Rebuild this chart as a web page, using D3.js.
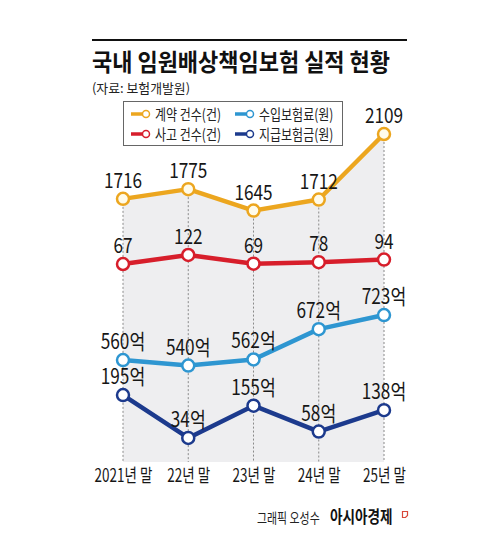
<!DOCTYPE html>
<html>
<head>
<meta charset="utf-8">
<script src="https://cdn.jsdelivr.net/npm/d3@7"></script>
<style>
  body { margin: 0; background: #fff; }
  svg { display: block; font-family: "Noto Sans CJK KR", "Noto Sans", sans-serif; }
</style>
</head>
<body>
<svg width="500" height="543"></svg>
<script>
// data
const years = ["2021년 말", "22년 말", "23년 말", "24년 말", "25년 말"];
const contracts = [1716, 1775, 1645, 1712, 2109]; // 계약 건수(건)
const accidents = [67, 122, 69, 78, 94];          // 사고 건수(건)
const premiums = [560, 540, 562, 672, 723];       // 수입보험료(원), 억
const payouts = [195, 34, 155, 58, 138];          // 지급보험금(원), 억

let svg = d3.select("svg");
let bottom = 462;
let squeeze = 0.82;

x = d3.scalePoint()
    .domain(years)
    .range([123, 384]);

// every series gets its own vertical band, like the print graphic
let series = [
    { name: "계약 건수(건)", values: contracts, color: "#eca61f", fill: "#fffbea", unit: "",
      y: d3.scaleLinear().domain([1600, 2200]).range([218, 119]) },
    { name: "사고 건수(건)", values: accidents, color: "#d71e2b", fill: "#fff", unit: "",
      y: d3.scaleLinear().domain([0, 150]).range([275, 250.4]) },
    { name: "수입보험료(원)", values: premiums, color: "#2e96d1", fill: "#fff", unit: "억",
      y: d3.scaleLinear().domain([500, 800]).range([376.6, 293.8]) },
    { name: "지급보험금(원)", values: payouts, color: "#1c3a8d", fill: "#fff", unit: "억",
      y: d3.scaleLinear().domain([0, 200]).range([447, 393.7]) }
];

// header
svg.append("line")
    .attr("x1", 92).attr("x2", 407)
    .attr("y1", 40).attr("y2", 40)
    .attr("stroke", "#111").attr("stroke-width", 2);

svg.append("text")
    .attr("x", 92).attr("y", 70.5)
    .attr("font-size", 24).attr("font-weight", 700)
    .attr("fill", "#111")
    .attr("textLength", 298).attr("lengthAdjust", "spacingAndGlyphs")
    .text("국내 임원배상책임보험 실적 현황");

svg.append("text")
    .attr("x", 92).attr("y", 93)
    .attr("font-size", 13).attr("fill", "#222")
    .attr("textLength", 98).attr("lengthAdjust", "spacingAndGlyphs")
    .text("(자료: 보험개발원)");

// grey area under the contract line
let base = series[0];
area = d3.area()
    .x((d, i) => x(years[i]))
    .y0(bottom)
    .y1(d => base.y(d));

svg.append("path")
    .datum(contracts)
    .attr("fill", "#eeeef0")
    .attr("d", area);

svg.append("g")
    .selectAll("line")
    .data(contracts)
    .join("line")
    .attr("x1", (d, i) => x(years[i]))
    .attr("x2", (d, i) => x(years[i]))
    .attr("y1", d => base.y(d))
    .attr("y2", bottom)
    .attr("stroke", "#8a8a8a")
    .attr("stroke-width", 1)
    .attr("stroke-dasharray", "2,2");

// lines, points, value labels
series.forEach(s => {
    let line = d3.line()
        .x((d, i) => x(years[i]))
        .y(d => s.y(d));

    let g = svg.append("g");
    g.append("path")
        .datum(s.values)
        .attr("fill", "none")
        .attr("stroke", s.color)
        .attr("stroke-width", 4.5)
        .attr("stroke-linejoin", "round")
        .attr("d", line);

    g.selectAll("circle")
        .data(s.values)
        .join("circle")
        .attr("cx", (d, i) => x(years[i]))
        .attr("cy", d => s.y(d))
        .attr("r", 6)
        .attr("fill", s.fill)
        .attr("stroke", s.color)
        .attr("stroke-width", 2.5);

    g.selectAll("text")
        .data(s.values)
        .join("text")
        .attr("transform", (d, i) => "translate(" + x(years[i]) + "," + (s.y(d) - 11) + ") scale(" + squeeze + ",1)")
        .attr("text-anchor", "middle")
        .attr("font-size", 21)
        .attr("fill", "#161616")
        .text(d => d + s.unit);
});

// x axis
xAxis = g => g
    .attr("transform", "translate(0," + bottom + ")")
    .call(d3.axisBottom(x).tickSize(0).tickPadding(7))
    .call(g => g.select(".domain").remove())
    .call(g => g.selectAll("text")
        .attr("font-size", 18)
        .attr("font-family", "Noto Sans CJK KR")
        .attr("fill", "#161616")
        .attr("transform", "scale(0.75,1)"));

svg.append("g").call(xAxis);

// legend
let legend = svg.append("g");
legend.append("rect")
    .attr("x", 123.5).attr("y", 101.5)
    .attr("width", 219).attr("height", 44)
    .attr("fill", "#fff")
    .attr("stroke", "#666").attr("stroke-width", 1);

let legendPos = [[131, 114], [131, 134], [235, 114], [235, 134]];
legend.selectAll("g")
    .data(series)
    .join("g")
    .attr("transform", (d, i) => "translate(" + legendPos[i][0] + "," + legendPos[i][1] + ")")
    .each(function (d) {
        let item = d3.select(this);
        item.append("line")
            .attr("x1", 0).attr("x2", 12)
            .attr("stroke", d.color).attr("stroke-width", 3.5);
        item.append("circle")
            .attr("cx", 15).attr("r", 3.5)
            .attr("fill", "#fff")
            .attr("stroke", d.color).attr("stroke-width", 1.5);
        item.append("text")
            .attr("transform", "translate(24,5.5) scale(0.8,1)")
            .attr("font-size", 15)
            .attr("fill", "#222")
            .text(d.name);
    });

// credit
svg.append("text")
    .attr("transform", "translate(257,523) scale(0.78,1)")
    .attr("font-size", 14)
    .attr("fill", "#222")
    .text("그래픽 오성수");

svg.append("text")
    .attr("transform", "translate(330,523) scale(0.8,1)")
    .attr("font-size", 17)
    .attr("font-weight", 700)
    .attr("fill", "#111")
    .text("아시아경제");

svg.append("path")
    .attr("d", "M402.5,511.5 h5 v4 l-2,2 h-3 z")
    .attr("fill", "none")
    .attr("stroke", "#d8483a")
    .attr("stroke-width", 1.2);
</script>
</body>
</html>
